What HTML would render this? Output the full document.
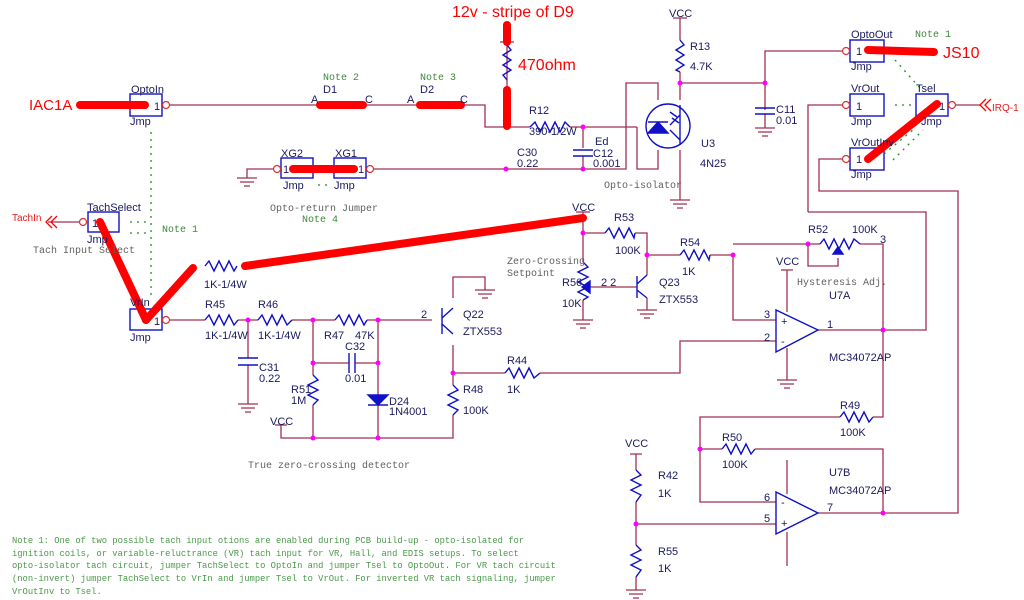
<!DOCTYPE html>
<html><head><meta charset="utf-8"><style>
html,body{margin:0;padding:0;background:#fff;width:1024px;height:600px;overflow:hidden}
svg{display:block}
.w{stroke:#a03050;stroke-width:1.3;fill:none}
.c{stroke:#1010c8;stroke-width:1.4;fill:none}
.r{stroke:#ff0000;stroke-width:8;stroke-linecap:round;fill:none}
.g{stroke:#2a8a2a;stroke-width:1.3;stroke-dasharray:2 5;fill:none}
text{font-family:"Liberation Sans",sans-serif;font-size:11px;fill:#1a1a60}
.m{font-family:"Liberation Mono",monospace;font-size:10px;fill:#606060}
.n{font-family:"Liberation Mono",monospace;font-size:10px;fill:#3a8a3a}
.nb{font-family:"Liberation Mono",monospace;font-size:8.8px;fill:#4a9a4a}
.rt{font-size:16px;fill:#ff0000}
.d{fill:#ff00ff}
</style></head><body>
<svg width="1024" height="600" viewBox="0 0 1024 600" xmlns="http://www.w3.org/2000/svg">
<g class="w">
<polyline points="166,105 485,105 485,127 530,127"/>
<polyline points="570,127 637,127"/>
<polyline points="370,169 626,169 626,83 658,83 658,100"/>
<polyline points="637,127 637,169 658,169 658,150"/>
<line x1="507" y1="42" x2="507" y2="90"/>
<line x1="583" y1="127" x2="583" y2="148"/><line x1="583" y1="156" x2="583" y2="169"/>
<polyline points="247,178 247,169 277,169"/>
<line x1="680" y1="18" x2="680" y2="40"/>
<polyline points="680,72 680,100"/><line x1="680" y1="83" x2="765" y2="83"/>
<polyline points="765,110 765,51 846,51"/><line x1="765" y1="114" x2="765" y2="128"/>
<line x1="680" y1="150" x2="680" y2="200"/>
<line x1="48" y1="222" x2="83" y2="222"/>
<line x1="952" y1="105" x2="980" y2="105"/>
<polyline points="808,212 808,105 846,105"/>
<polyline points="883,513 958,513 958,191 819,191 819,159 846,159"/>
<polyline points="818,330 926,330 926,212 808,212"/>
<polyline points="166,320 205,320"/><polyline points="238,320 258,320"/><polyline points="292,320 335,320"/><polyline points="367,320 432,320"/>
<polyline points="248,320 248,358"/><polyline points="248,365 248,404"/>
<polyline points="313,320 313,375"/><polyline points="313,405 313,438"/>
<polyline points="313,363 349,363"/><polyline points="355,363 378,363"/>
<polyline points="378,320 378,395"/><polyline points="378,405 378,438"/>
<polyline points="281,425 281,438 453,438 453,415"/>
<polyline points="453,385 453,345"/>
<polyline points="453,298 453,277 485,277 485,290"/>
<polyline points="453,373 505,373"/><polyline points="540,373 680,373 680,341 776,341"/>
<polyline points="583,212 583,262"/><polyline points="583,300 583,320"/>
<polyline points="583,233 605,233"/><polyline points="635,233 647,233 647,275"/>
<polyline points="647,255 680,255"/><polyline points="710,255 733,255 733,320 776,320"/>
<polyline points="733,244 820,244"/><polyline points="860,244 883,244 883,417 873,417"/>
<polyline points="808,244 808,266 838,266 838,258"/>
<polyline points="590,287 637,287"/>
<polyline points="647,298 647,310"/>
<polyline points="787,270 787,312"/><polyline points="787,348 787,380"/>
<polyline points="840,417 700,417 700,502 776,502"/>
<polyline points="700,449 722,449"/><polyline points="755,449 883,449 883,513 818,513"/>
<polyline points="636,454 636,470"/><polyline points="636,502 636,545"/><polyline points="636,577 636,590"/>
<polyline points="636,524 776,524"/>
<polyline points="787,460 787,494"/><polyline points="787,532 787,566"/>
</g>
<g class="w">
<path d="M237,178h20M240,182h14M244,186h6"/>
<path d="M755,128h20M758,132h14M762,136h6"/>
<path d="M670,200h20M673,204h14M677,208h6"/>
<path d="M238,404h20M241,408h14M245,412h6"/>
<path d="M475,290h20M478,294h14M482,298h6"/>
<path d="M573,320h20M576,324h14M580,328h6"/>
<path d="M637,310h20M640,314h14M644,318h6"/>
<path d="M777,380h20M780,384h14M784,388h6"/>
<path d="M626,590h20M629,594h14M633,598h6"/>
<path d="M673,18h14M500,42h14M576,212h14M275,425h12M781,270h12M630,454h12"/>
</g>
<g class="d">
<circle cx="583" cy="127" r="2.5"/><circle cx="506" cy="169" r="2.5"/><circle cx="583" cy="169" r="2.5"/>
<circle cx="680" cy="83" r="2.5"/><circle cx="765" cy="83" r="2.5"/>
<circle cx="248" cy="320" r="2.5"/><circle cx="313" cy="320" r="2.5"/><circle cx="378" cy="320" r="2.5"/>
<circle cx="313" cy="363" r="2.5"/><circle cx="378" cy="363" r="2.5"/><circle cx="313" cy="438" r="2.5"/><circle cx="378" cy="438" r="2.5"/>
<circle cx="453" cy="373" r="2.5"/><circle cx="583" cy="233" r="2.5"/><circle cx="647" cy="255" r="2.5"/><circle cx="733" cy="255" r="2.5"/>
<circle cx="808" cy="244" r="2.5"/><circle cx="883" cy="330" r="2.5"/><circle cx="700" cy="449" r="2.5"/><circle cx="883" cy="513" r="2.5"/><circle cx="636" cy="524" r="2.5"/>
</g>
<g class="c">
<rect x="130" y="94" width="32" height="22"/><rect x="281" y="158" width="32" height="20"/><rect x="334" y="158" width="32" height="20"/>
<rect x="88" y="212" width="31" height="20"/><rect x="130" y="309" width="32" height="21"/>
<rect x="850" y="40" width="34" height="22"/><rect x="850" y="94" width="34" height="22"/><rect x="850" y="148" width="34" height="22"/><rect x="916" y="94" width="32" height="22"/>
<polyline points="507,45 511,50 503,55 511,60 503,65 511,70 503,75 507,80"/>
<polyline points="530,127 535,122 540,132 545,122 550,132 555,122 560,132 565,122 570,127"/>
<polyline points="680,40 684,45 676,50 684,55 676,60 684,65 676,70 680,72"/>
<path d="M755,108h20M755,114h20M573,150h20M573,156h20"/>
<circle cx="668" cy="126" r="22"/>
<polygon points="648,133 668,133 658,122" fill="#1010c8"/><path d="M648,122h20"/>
<path d="M680,105v40M680,115l-10,10M670,130l10,10"/>
<path d="M670,112l7,5M672,118l7,5"/>
<polyline points="205,320 209,315 214,325 219,315 224,325 229,315 234,325 238,320"/>
<polyline points="258,320 262,315 267,325 272,315 277,325 282,315 287,325 292,320"/>
<polyline points="335,320 339,315 344,325 349,315 354,325 359,315 364,325 367,320"/>
<polyline points="205,266 209,261 214,271 219,261 224,271 229,261 234,271 237,266"/>
<path d="M238,358h20M238,365h20M349,353v20M355,353v20"/>
<polyline points="313,375 318,380 308,385 318,390 308,395 318,400 313,405"/>
<polygon points="368,395 388,395 378,405" fill="#1010c8"/><path d="M368,405h20"/>
<path d="M442,308v26M442,318l11,-10M442,324l11,10"/>
<polyline points="453,385 458,390 448,395 458,400 448,405 458,410 453,415"/>
<polyline points="505,373 509,368 514,378 519,368 524,378 529,368 534,378 540,373"/>
<polyline points="605,233 609,228 614,238 619,228 624,238 629,228 634,238 635,233"/>
<polyline points="680,255 684,250 689,260 694,250 699,260 704,250 709,260 710,255"/>
<polyline points="583,262 588,267 578,272 588,277 578,282 588,287 578,292 588,297 583,300"/>
<polygon points="590,281 590,293 582,287" fill="#1010c8"/>
<path d="M637,276v22M637,284l10,-9M637,290l10,8"/>
<polyline points="820,244 824,239 829,249 834,239 839,249 844,239 849,249 854,239 860,244"/>
<polygon points="833,254 843,254 838,247" fill="#1010c8"/>
<polygon points="776,310 776,352 818,330"/>
<polygon points="776,492 776,534 818,513"/>
<polyline points="840,417 844,412 849,422 854,412 859,422 864,412 869,422 873,417"/>
<polyline points="722,449 726,444 731,454 736,444 741,454 746,444 751,454 755,449"/>
<polyline points="636,470 641,475 631,480 641,485 631,490 641,495 636,502"/>
<polyline points="636,545 641,550 631,555 641,560 631,565 641,570 636,577"/>
</g>
<g stroke="#e03030" fill="#fff" stroke-width="1.2">
<circle cx="166" cy="105" r="3.5"/><circle cx="277" cy="169" r="3.5"/><circle cx="370" cy="169" r="3.5"/><circle cx="83" cy="222" r="3.5"/><circle cx="166" cy="320" r="3.5"/>
<circle cx="846" cy="51" r="3.5"/><circle cx="846" cy="105" r="3.5"/><circle cx="846" cy="159" r="3.5"/><circle cx="952" cy="105" r="3.5"/>
</g>
<g class="w"><path d="M52,216l-6,6 6,6M57,216l-6,6 6,6M986,99l-6,6 6,6M991,99l-6,6 6,6" stroke="#ff0000"/></g>
<g class="g">
<line x1="151" y1="132" x2="151" y2="300"/><path d="M130,222h21M130,233h21"/>
<path d="M318,185h12"/>
<path d="M895,60l25,28M895,105h20M893,160l30,-30M884,154l30,-25"/>
</g>
<g class="r">
<line x1="80" y1="105" x2="145" y2="105"/>
<line x1="320" y1="105" x2="363" y2="105"/><line x1="420" y1="105" x2="461" y2="105"/>
<line x1="507" y1="25" x2="507" y2="42"/><line x1="507" y1="90" x2="507" y2="126"/>
<line x1="293" y1="169" x2="354" y2="169"/>
<line x1="100" y1="222" x2="146" y2="320"/><line x1="146" y1="320" x2="193" y2="268"/>
<line x1="245" y1="266" x2="583" y2="218"/>
<line x1="868" y1="50" x2="934" y2="52"/><line x1="868" y1="159" x2="937" y2="104"/>
</g>
<text x="452" y="17" class="rt">12v - stripe of D9</text>
<text x="518" y="70" class="rt">470ohm</text>
<text x="29" y="110" class="rt" style="font-size:15px">IAC1A</text>
<text x="943" y="58" class="rt">JS10</text>
<text x="12" y="221" style="fill:#e02020;font-size:10px">TachIn</text>
<text x="992" y="111" style="fill:#e02020;font-size:10px">IRQ-1</text>
<text x="131" y="93">OptoIn</text><text x="130" y="125">Jmp</text><text x="154" y="110">1</text>
<text x="323" y="93">D1</text><text x="420" y="93">D2</text>
<text x="311" y="103" font-size="9">A</text><text x="365" y="103" font-size="9">C</text><text x="407" y="103" font-size="9">A</text><text x="460" y="103" font-size="9">C</text>
<text x="323" y="80" class="n">Note 2</text><text x="420" y="80" class="n">Note 3</text>
<text x="529" y="114">R12</text><text x="529" y="135">390-1/2W</text>
<text x="517" y="156">C30</text><text x="517" y="167">0.22</text><text x="595" y="145" font-size="9">Ed</text>
<text x="593" y="157">C12</text><text x="593" y="167">0.001</text>
<text x="281" y="157">XG2</text><text x="335" y="157">XG1</text><text x="283" y="189">Jmp</text><text x="334" y="189">Jmp</text>
<text x="283" y="173">1</text><text x="358" y="173">1</text>
<text x="270" y="211" class="m">Opto-return Jumper</text><text x="302" y="222" class="n">Note 4</text>
<text x="669" y="17">VCC</text><text x="690" y="50">R13</text><text x="690" y="70">4.7K</text>
<text x="701" y="147">U3</text><text x="700" y="167">4N25</text><text x="604" y="188" class="m">Opto-isolator</text>
<text x="776" y="113">C11</text><text x="776" y="124">0.01</text>
<text x="851" y="38">OptoOut</text><text x="851" y="70">Jmp</text><text x="856" y="55">1</text><text x="915" y="37" class="n">Note 1</text>
<text x="851" y="92">VrOut</text><text x="851" y="125">Jmp</text><text x="856" y="110">1</text>
<text x="916" y="92">Tsel</text><text x="921" y="125">Jmp</text><text x="939" y="110">1</text>
<text x="851" y="146">VrOutInv</text><text x="851" y="178">Jmp</text><text x="856" y="163">1</text>
<text x="87" y="211">TachSelect</text><text x="87" y="243">Jmp</text><text x="92" y="227">1</text>
<text x="33" y="253" class="m">Tach Input Select</text><text x="162" y="232" class="n">Note 1</text>
<text x="204" y="288">1K-1/4W</text>
<text x="130" y="306">VrIn</text><text x="130" y="341">Jmp</text><text x="154" y="325">1</text>
<text x="205" y="308">R45</text><text x="258" y="308">R46</text><text x="205" y="339">1K-1/4W</text><text x="258" y="339">1K-1/4W</text>
<text x="324" y="339">R47</text><text x="355" y="339">47K</text><text x="345" y="350">C32</text><text x="345" y="382">0.01</text>
<text x="259" y="371">C31</text><text x="259" y="382">0.22</text>
<text x="291" y="393">R51</text><text x="291" y="404">1M</text>
<text x="389" y="405">D24</text><text x="389" y="415">1N4001</text>
<text x="270" y="425">VCC</text>
<text x="421" y="318">2</text><text x="463" y="318">Q22</text><text x="463" y="335">ZTX553</text>
<text x="463" y="393">R48</text><text x="463" y="414">100K</text>
<text x="507" y="364">R44</text><text x="507" y="393">1K</text>
<text x="248" y="468" class="m">True zero-crossing detector</text>
<text x="572" y="211">VCC</text><text x="614" y="221">R53</text><text x="615" y="254">100K</text>
<text x="680" y="246">R54</text><text x="682" y="275">1K</text>
<text x="507" y="264" class="m">Zero-Crossing</text><text x="507" y="276" class="m">Setpoint</text>
<text x="562" y="286">R56</text><text x="562" y="307">10K</text><text x="601" y="286">2 2</text>
<text x="659" y="286">Q23</text><text x="659" y="303">ZTX553</text>
<text x="808" y="233">R52</text><text x="852" y="233">100K</text><text x="880" y="243" font-size="9">3</text>
<text x="776" y="265">VCC</text><text x="797" y="285" class="m">Hysteresis Adj.</text><text x="829" y="299">U7A</text>
<text x="764" y="318">3</text><text x="764" y="341">2</text><text x="781" y="325">+</text><text x="781" y="345">-</text><text x="827" y="328">1</text>
<text x="829" y="361">MC34072AP</text>
<text x="840" y="409">R49</text><text x="840" y="436">100K</text>
<text x="722" y="441">R50</text><text x="722" y="468">100K</text>
<text x="829" y="476">U7B</text><text x="829" y="494">MC34072AP</text>
<text x="764" y="501">6</text><text x="764" y="522">5</text><text x="781" y="506">-</text><text x="781" y="527">+</text><text x="827" y="511">7</text>
<text x="625" y="447">VCC</text><text x="658" y="479">R42</text><text x="658" y="497">1K</text><text x="658" y="555">R55</text><text x="658" y="572">1K</text>
<text x="12" y="543" class="nb">Note 1: One of two possible tach input otions are enabled during PCB build-up - opto-isolated for</text>
<text x="12" y="556" class="nb">ignition coils, or variable-reluctrance (VR) tach input for VR, Hall, and EDIS setups. To select</text>
<text x="12" y="568" class="nb">opto-isolator tach circuit, jumper TachSelect to OptoIn and jumper Tsel to OptoOut. For VR tach circuit</text>
<text x="12" y="581" class="nb">(non-invert) jumper TachSelect to VrIn and jumper Tsel to VrOut. For inverted VR tach signaling, jumper</text>
<text x="12" y="594" class="nb">VrOutInv to Tsel.</text>
</svg>
</body></html>
